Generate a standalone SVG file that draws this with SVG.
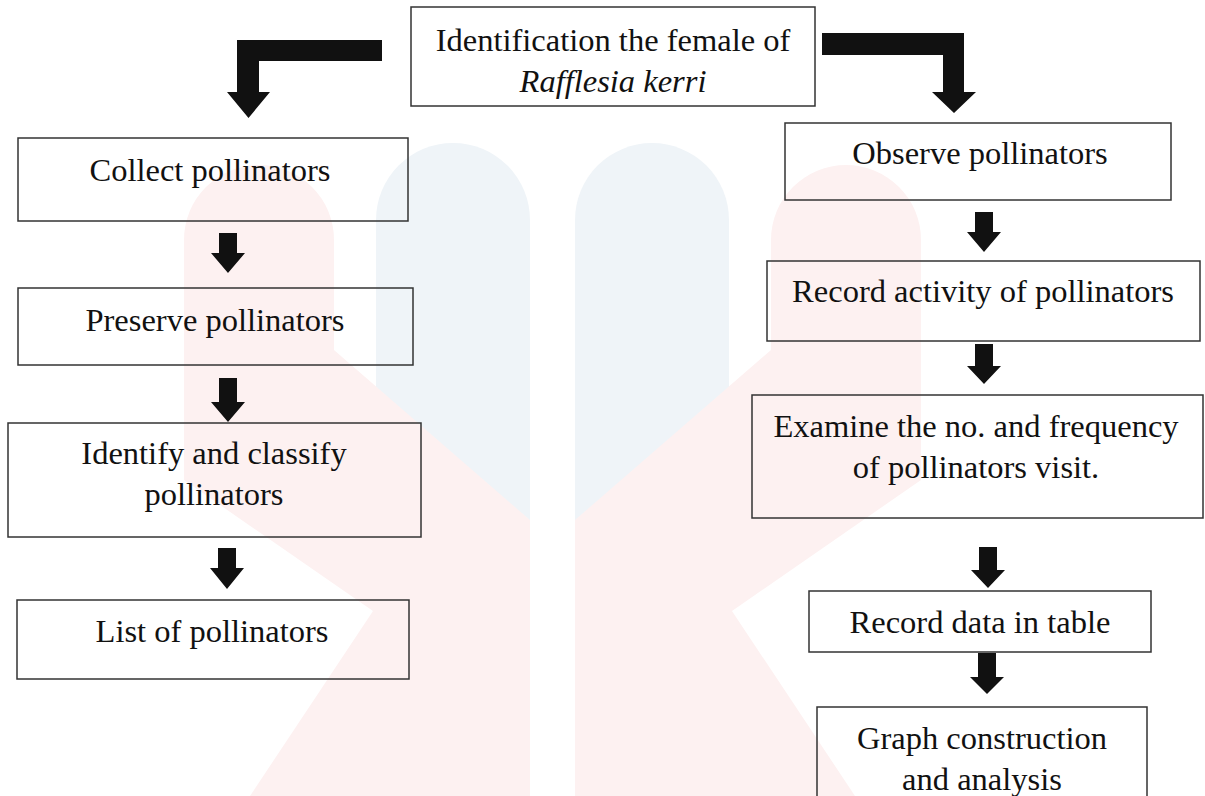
<svg xmlns="http://www.w3.org/2000/svg" width="1205" height="796" viewBox="0 0 1205 796">
<style>
.box{fill:none;stroke:#333;stroke-width:1.5}
text{font-size:32.5px;fill:#111;text-anchor:middle}
.arr{fill:#111}
.wb{fill:#eff4f8}
.wp{fill:#fdf1f1}
</style>
<rect width="1205" height="796" fill="#fff"/>
<g id="watermark">
<path class="wb" d="M376,796 V220 A77,77 0 0 1 530,220 V796 Z"/>
<path class="wb" d="M575,796 V220 A77,77 0 0 1 729,220 V796 Z"/>
<path class="wp" d="M184,240 A75,75 0 0 1 334,240 V350 L530,520 V796 H250 L373,611 L184,480 Z"/>
<path class="wp" d="M921,240 A75,75 0 0 0 771,240 V350 L575,520 V796 H855 L732,611 L921,480 Z"/>
</g>
<g id="connectors">
<path class="arr" d="M382,40 H237 V92 H227 L248.5,118 L270,92 H259 V61 H382 Z"/>
<path class="arr" d="M822,33 H964 V92 H976 L954,113 L932,92 H943 V55 H822 Z"/>
<path class="arr" d="M219,233 H237 V253 H245 L228,273 L211,253 H219 Z"/>
<path class="arr" d="M219,378 H237 V402 H245 L228,422 L211,402 H219 Z"/>
<path class="arr" d="M218,548 H236 V568 H244 L227,589 L210,568 H218 Z"/>
<path class="arr" d="M975,212 H993 V232 H1001 L984,252 L967,232 H975 Z"/>
<path class="arr" d="M975,344 H993 V366 H1001 L984,384 L967,366 H975 Z"/>
<path class="arr" d="M979,547 H997 V570 H1005 L988,588 L971,570 H979 Z"/>
<path class="arr" d="M978,653 H996 V677 H1004 L987,694 L970,677 H978 Z"/>
</g>
<g font-family="Liberation Serif, Times New Roman, DejaVu Serif, serif">
<g id="n-top">
<rect class="box" x="411" y="7" width="404" height="99"/>
<text x="613" y="51">Identification the female of</text>
<text x="613" y="92" font-style="italic">Rafflesia kerri</text>
</g>
<g id="n-collect">
<rect class="box" x="18" y="138" width="390" height="83"/>
<text x="210" y="181">Collect pollinators</text>
</g>
<g id="n-preserve">
<rect class="box" x="18" y="288" width="395" height="77"/>
<text x="215" y="331">Preserve pollinators</text>
</g>
<g id="n-identify">
<rect class="box" x="8" y="423" width="413" height="114"/>
<text x="214" y="464">Identify and classify</text>
<text x="214" y="505">pollinators</text>
</g>
<g id="n-list">
<rect class="box" x="17" y="600" width="392" height="79"/>
<text x="212" y="642">List of pollinators</text>
</g>
<g id="n-observe">
<rect class="box" x="785" y="123" width="386" height="77"/>
<text x="980" y="164">Observe pollinators</text>
</g>
<g id="n-activity">
<rect class="box" x="767" y="261" width="433" height="80"/>
<text x="983" y="302">Record activity of pollinators</text>
</g>
<g id="n-examine">
<rect class="box" x="752" y="395" width="451" height="123"/>
<text x="976" y="437">Examine the no. and frequency</text>
<text x="976" y="478">of pollinators visit.</text>
</g>
<g id="n-table">
<rect class="box" x="809" y="591" width="342" height="61"/>
<text x="980" y="633">Record data in table</text>
</g>
<g id="n-graph">
<rect class="box" x="817" y="707" width="330" height="100"/>
<text x="982" y="749">Graph construction</text>
<text x="982" y="790">and analysis</text>
</g>
</g>
</svg>
